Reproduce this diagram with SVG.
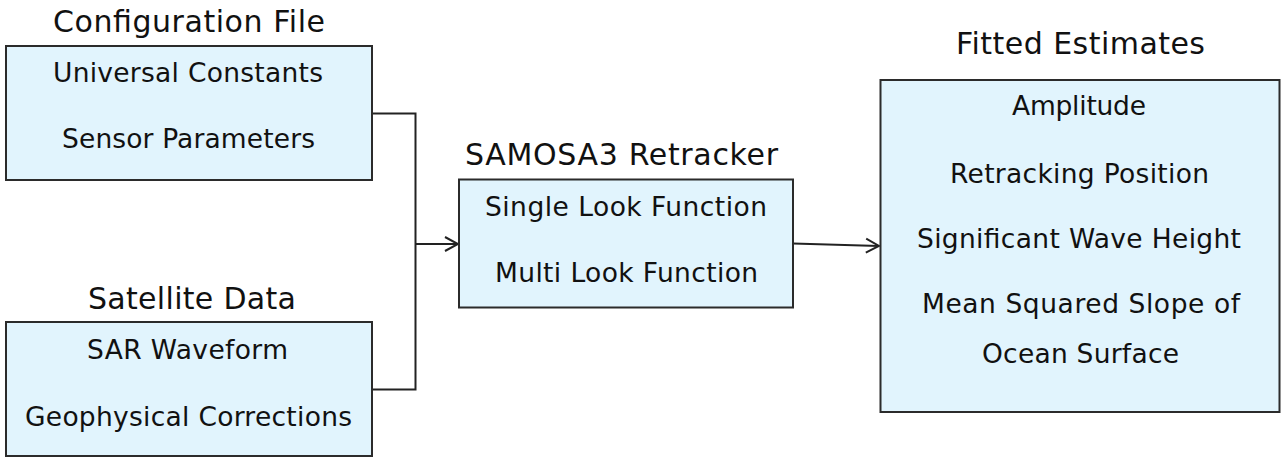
<svg xmlns="http://www.w3.org/2000/svg" width="1281" height="459" viewBox="0 0 1281 459">
<style>
.box{fill:#e1f4fd;stroke:#2b2b2b;stroke-width:2}
.t{font-family:"DejaVu Sans",Verdana,sans-serif;font-size:26.5px;fill:#111}
.h{font-family:"DejaVu Sans",Verdana,sans-serif;font-size:30px;fill:#111}
.c{fill:none;stroke:#222;stroke-width:2}
</style>
<defs>
<marker id="arr" markerUnits="userSpaceOnUse" markerWidth="16" markerHeight="18" refX="14" refY="8" orient="auto" viewBox="0 0 16 16">
<path d="M1,1 L14,8 L1,15" fill="none" stroke="#222" stroke-width="2"/>
</marker>
</defs>
<rect width="1281" height="459" fill="#fff"/>
<g id="connectors">
<path class="c" d="M372,113.5 H415.5 V389.5 H372"/>
<path class="c" d="M415.5,244 H458" marker-end="url(#arr)"/>
<path class="c" d="M793,243.5 L879,246" marker-end="url(#arr)"/>
</g>
<g id="config">
<text class="h" x="53" y="32" textLength="272" lengthAdjust="spacing">Configuration File</text>
<rect class="box" x="6" y="46" width="366" height="134"/>
<text class="t" x="53" y="82" textLength="270" lengthAdjust="spacing">Universal Constants</text>
<text class="t" x="62" y="148" textLength="253" lengthAdjust="spacing">Sensor Parameters</text>
</g>
<g id="satellite">
<text class="h" x="88" y="309" textLength="208" lengthAdjust="spacing">Satellite Data</text>
<rect class="box" x="6" y="322" width="366" height="134"/>
<text class="t" x="87" y="359" textLength="201" lengthAdjust="spacing">SAR Waveform</text>
<text class="t" x="25" y="426" textLength="327" lengthAdjust="spacing">Geophysical Corrections</text>
</g>
<g id="retracker">
<text class="h" x="465" y="165" textLength="313" lengthAdjust="spacing">SAMOSA3 Retracker</text>
<rect class="box" x="459" y="179.5" width="334" height="128"/>
<text class="t" x="485" y="216" textLength="282" lengthAdjust="spacing">Single Look Function</text>
<text class="t" x="495" y="282" textLength="263" lengthAdjust="spacing">Multi Look Function</text>
</g>
<g id="estimates">
<text class="h" x="956" y="54" textLength="249" lengthAdjust="spacing">Fitted Estimates</text>
<rect class="box" x="880.5" y="80" width="399" height="332"/>
<text class="t" x="1012" y="115" textLength="134" lengthAdjust="spacing">Amplitude</text>
<text class="t" x="950" y="182.5" textLength="259" lengthAdjust="spacing">Retracking Position</text>
<text class="t" x="917" y="248" textLength="324" lengthAdjust="spacing">Significant Wave Height</text>
<text class="t" x="922" y="313" textLength="318" lengthAdjust="spacing">Mean Squared Slope of</text>
<text class="t" x="982" y="363" textLength="197" lengthAdjust="spacing">Ocean Surface</text>
</g>
</svg>
